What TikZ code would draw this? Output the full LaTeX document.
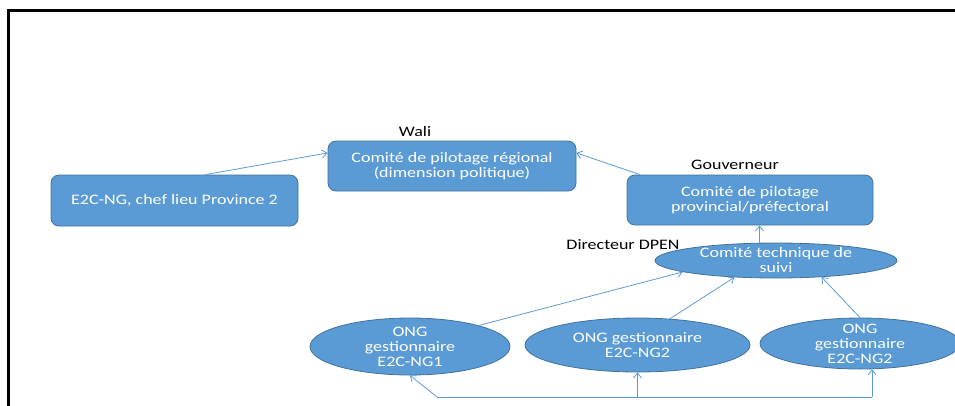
\documentclass[tikz,border=0pt]{standalone}
\usepackage{fontspec}
\setmainfont{Carlito}[FakeStretch=1.24]
\usetikzlibrary{arrows.meta,shapes.geometric,calc}
\definecolor{boxfill}{HTML}{5B9BD5}
\definecolor{boxline}{HTML}{41719C}
\definecolor{conn}{HTML}{5B9BD5}
\tikzset{
  rbox/.style={draw=boxline, line width=0.8pt, fill=boxfill, rounded corners=8pt,
    text=white, align=center, inner sep=0pt, font=\fontsize{14.5}{15.5}\selectfont},
  ell/.style={ellipse, draw=boxline, line width=0.8pt, fill=boxfill, inner sep=0pt},
  etext/.style={text=white, align=center, font=\fontsize{14.5}{15}\selectfont},
  lbl/.style={text=black, font=\fontsize{14.5}{16}\selectfont, inner sep=0pt},
  conn/.style={draw=conn, line width=0.8pt},
  arr/.style={conn, -{Straight Barb[length=5pt,width=8pt]}},
}
\begin{document}
\begin{tikzpicture}[x=1pt,y=-1pt]
\useasboundingbox (0,0) rectangle (955,405);
% frame
\draw[line width=2.5pt, black] (8.5,420) -- (8.5,10.5) -- (970,10.5);
% boxes
\node[rbox, minimum width=248pt, minimum height=50pt] (reg) at (452,166) {Comité de pilotage régional\\(dimension politique)};
\node[rbox, minimum width=247pt, minimum height=51pt] (e2c) at (174.5,200.5) {E2C-NG, chef lieu Province 2};
\node[rbox, minimum width=246pt, minimum height=50pt] (prov) at (750,200) {Comité de pilotage\\provincial/préfectoral};
% ellipses
\node[ell, minimum width=242pt, minimum height=35pt,
  label={[etext]center:Comité technique de\\suivi}] (tech) at (776,260.5) {};
\node[ell, minimum width=200pt, minimum height=57pt,
  label={[etext]center:ONG\\gestionnaire\\E2C-NG1}] (ong1) at (410,346.5) {};
\node[ell, minimum width=225pt, minimum height=54pt,
  label={[etext]center:ONG gestionnaire\\E2C-NG2}] (ong2) at (637.5,345) {};
\node[ell, minimum width=200pt, minimum height=51pt,
  label={[etext]center:ONG\\gestionnaire\\E2C-NG2}] (ong3) at (860,343.5) {};
% labels
\node[lbl] (wali) at (415,132) {Wali};
\node[lbl] (gouv) at (735,165) {Gouverneur};
\node[lbl] (dpen) at (623,245) {Directeur DPEN};
% connectors
\draw[arr] (e2c.40) -- (reg.174);
\draw[arr] (prov.167.5) -- (reg.6);
\draw[arr] (tech.133) -- (tech.133 |- prov.south);
\draw[arr] (ong1.17) -- (tech.187);
\draw[arr] (ong2.39) -- (tech.202);
\draw[arr] (ong3.north) -- (tech.340);
\coordinate (b1) at (437,397);
\coordinate (b2) at (637.5,397);
\coordinate (b3) at (872,397);
\draw[conn] (b1) -- (b3);
\draw[arr] (b1) -- (ong1.south);
\draw[arr] (b2) -- (ong2.south);
\draw[arr] (b3) -- (b3 |- ong3.295);
\end{tikzpicture}
\end{document}
